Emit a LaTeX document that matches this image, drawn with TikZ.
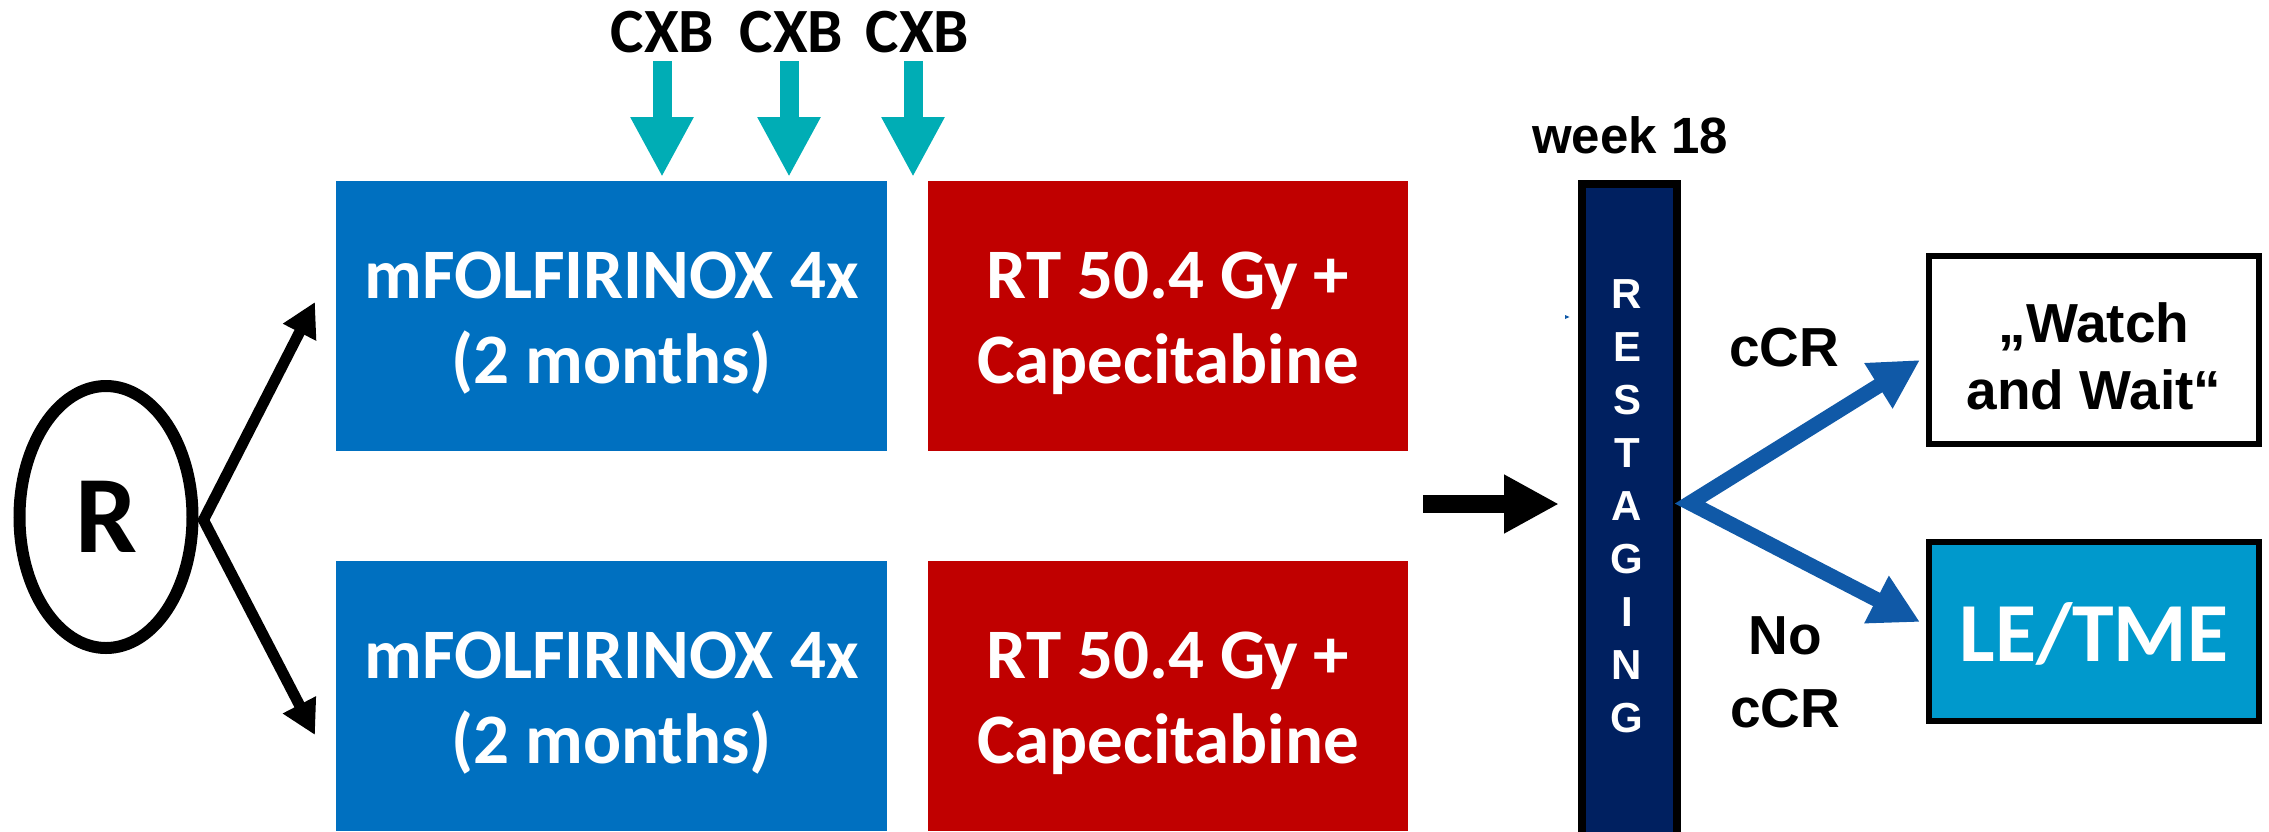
\documentclass[tikz,border=0pt]{standalone}
\usepackage{fontspec}
\setmainfont{Carlito}
\newfontfamily\arialf{Liberation Sans}
\usetikzlibrary{shapes.geometric,arrows.meta,calc}
\definecolor{boxblue}{HTML}{0070C0}
\definecolor{boxred}{HTML}{C00000}
\definecolor{cxbteal}{HTML}{00ADB5}
\definecolor{navybox}{HTML}{002060}
\definecolor{arrowblue}{HTML}{1059A7}
\definecolor{letmeblue}{HTML}{0099CC}
\begin{document}
\begin{tikzpicture}[x=1pt,y=-1pt,
  phasebox/.style={rectangle, inner sep=0pt, outer sep=0pt, minimum height=270pt},
  chemobox/.style={phasebox, fill=boxblue, minimum width=551pt},
  rtbox/.style={phasebox, fill=boxred, minimum width=480pt},
  boxtext/.style={text=white, font=\fontsize{71}{85}\selectfont\bfseries, align=center, inner sep=0pt},
  cxblabel/.style={font=\fontsize{63}{70}\selectfont\bfseries, anchor=base, inner sep=0pt},
  cxbarrow/.style={color=cxbteal, line width=19pt, -{Triangle[width=59pt,length=60pt]}},
  arlabel/.style={font=\arialf\bfseries\fontsize{55}{73}\selectfont, inner sep=0pt, align=center},
  outbox/.style={draw=black, line width=6pt, rectangle, inner sep=0pt, minimum width=330pt}
]
\useasboundingbox (0,0) rectangle (2269,831);

% randomisation
\node[ellipse, draw=black, line width=12pt, minimum width=173pt, minimum height=262pt, inner sep=0pt,
      font=\fontsize{110}{110}\selectfont\bfseries] (R) at (106,517) {R};

% treatment boxes
\node[chemobox] (b1) at (611.5,316) {};
\node[rtbox]    (r1) at (1168,316) {};
\node[chemobox] (b2) at (611.5,696) {};
\node[rtbox]    (r2) at (1168,696) {};
\node[boxtext] (b1t) at ([yshift=-7.5pt]b1.center) {mFOLFIRINOX 4x\\(2 months)};
\node[boxtext] (r1t) at ([yshift=-7.5pt]r1.center) {RT 50.4 Gy +\\Capecitabine};
\node[boxtext] (b2t) at ([yshift=-7.5pt]b2.center) {mFOLFIRINOX 4x\\(2 months)};
\node[boxtext] (r2t) at ([yshift=-7.5pt]r2.center) {RT 50.4 Gy +\\Capecitabine};

% arrows from R
\coordinate (rv) at ([xshift=5pt,yshift=-3pt]R.east);
\coordinate (rt1) at (315,302);
\coordinate (rt2) at (315,735);
\draw[line width=11pt, line join=miter,
      {Triangle[width=35pt,length=34pt]}-{Triangle[width=35pt,length=34pt]}] (rt1) -- (rv) -- (rt2);

% CXB
\node[cxblabel] (cxb1) at (662.5,52) {CXB};
\node[cxblabel] (cxb2) at (791.5,52) {CXB};
\node[cxblabel] (cxb3) at (917.5,52) {CXB};
\coordinate (c1a) at (662,61);  \coordinate (c1b) at (662,177);
\coordinate (c2a) at (789,61);  \coordinate (c2b) at (789,177);
\coordinate (c3a) at (913,61);  \coordinate (c3b) at (913,177);
\draw[cxbarrow] (c1a) -- (c1b);
\draw[cxbarrow] (c2a) -- (c2b);
\draw[cxbarrow] (c3a) -- (c3b);

% arrow to restaging
\coordinate (ma) at (1423,504);
\coordinate (mb) at (1559,504);
\draw[line width=18pt, -{Triangle[width=55pt,length=55pt]}] (ma) -- (mb);

% small blue speck
\fill[arrowblue] (1565,315) -- (1569.5,317) -- (1565,319) -- cycle;

% restaging
\node[draw=black, fill=navybox, line width=8pt, rectangle, minimum width=95pt, minimum height=676pt, inner sep=0pt] (rest) at (1629.5,522) {};
\node[text=white, font=\arialf\bfseries\fontsize{42}{53}\selectfont, align=center, inner sep=0pt] (restt) at (1627,506.5)
  {R\\E\\S\\T\\A\\G\\I\\N\\G};
\node[font=\arialf\bfseries\fontsize{51}{60}\selectfont, anchor=base, inner sep=0pt] (wk) at (1630,153) {week 18};

% outcomes
\node[outbox, minimum height=188pt, fill=white] (ww) at (2094,350) {};
\node[arlabel, font=\arialf\bfseries\fontsize{55}{67}\selectfont] (wwt) at (2094,356) {„Watch\\and Wait“};
\node[outbox, minimum height=179pt, fill=letmeblue] (le) at (2094,631.5) {};
\node[text=white, font=\fontsize{84}{90}\selectfont\bfseries, anchor=base, inner sep=0pt] (let) at (2094,661) {LE/TME};

% blue arrows
\coordinate (bv) at (1690,503);
\coordinate (bt1) at (1920,360);
\coordinate (bt2) at (1920,622);
\draw[color=arrowblue, line width=15pt, line join=miter,
      {Triangle[width=50pt,length=49pt]}-{Triangle[width=50pt,length=49pt]}] (bt1) -- (bv) -- (bt2);

\node[arlabel, anchor=base] (ccr) at (1784,366) {cCR};
\node[arlabel] (noccr) at (1785,672) {No\\cCR};
\end{tikzpicture}
\end{document}
